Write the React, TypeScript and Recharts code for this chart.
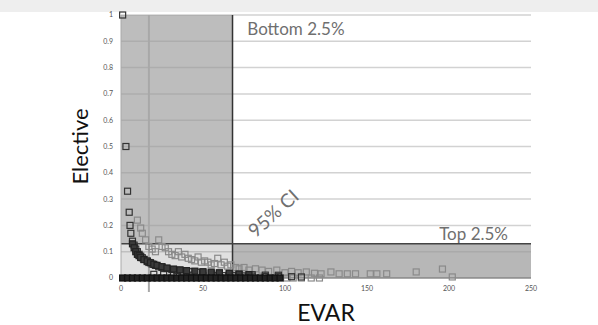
import React from "react";
import {
    ScatterChart,
    Scatter,
    XAxis,
    YAxis,
    CartesianGrid,
    ReferenceArea,
    ReferenceLine,
    ReferenceDot,
} from "recharts";

// axis ticks
const xTicks = [0, 50, 100, 150, 200, 250];
const yTicks = [0, 0.1, 0.2, 0.3, 0.4, 0.5, 0.6, 0.7, 0.8, 0.9, 1];

// cut-offs (EVAR volume, elective proportion) and the vertical marker
const evarCut = 68;
const electiveCut = 0.13;
const markerX = 17;

// hospitals at 0 elective proportion (dense black row)
const zeroRow: [number, number][] = [
    [1, 0], [4, 0], [7, 0], [10, 0], [13, 0], [16, 0], [19, 0], [22, 0], [25, 0], [28, 0],
    [31, 0], [34, 0], [37, 0], [40, 0], [43, 0], [46, 0], [49, 0], [52, 0], [55, 0], [58, 0],
    [61, 0], [64, 0], [67, 0], [70, 0], [73, 0], [76, 0], [79, 0], [82, 0], [85, 0], [88, 0],
    [91, 0], [94, 0], [97, 0],
];

// first curve, dark outlines
const darkCurve: [number, number][] = [
    [1, 1], [3, 0.5], [4, 0.33], [5, 0.25], [5.5, 0.2], [6, 0.17], [7, 0.14], [8, 0.125],
    [9, 0.11], [10, 0.1], [11, 0.09], [12, 0.083], [13, 0.077], [14, 0.071], [16, 0.0625],
    [17, 0.059], [19, 0.053], [21, 0.048], [23, 0.043], [25, 0.04], [28, 0.036], [31, 0.032],
    [34, 0.029], [38, 0.026], [42, 0.024], [46, 0.022], [50, 0.02], [55, 0.018], [60, 0.017],
    [66, 0.015], [72, 0.014], [80, 0.0125], [88, 0.011], [96, 0.0105],
    [20, 0.014], [26, 0.013], [32, 0.012], [38, 0.012], [44, 0.011], [50, 0.01], [56, 0.01],
    [62, 0.009], [68, 0.009], [74, 0.008], [80, 0.007], [88, 0.006], [96, 0.005], [104, 0.005],
    [110, 0.004],
];

// overlapping dark band (filled look)
const darkBand: [number, number][] = [
    [7, 0.13], [8, 0.115], [9, 0.1], [10, 0.09], [11, 0.085], [12, 0.078], [14, 0.07],
    [16, 0.065], [18, 0.058], [20, 0.052], [22, 0.048], [25, 0.043], [28, 0.038], [32, 0.034],
    [36, 0.031], [40, 0.028], [45, 0.026], [50, 0.024], [55, 0.022], [60, 0.02], [66, 0.018],
    [72, 0.015], [78, 0.013],
];

// remaining hospitals, light outlines
const lightPoints: [number, number][] = [
    [10, 0.22], [12, 0.19], [13, 0.17], [15, 0.145], [17, 0.12], [19, 0.11], [21, 0.1],
    [23, 0.145], [25, 0.12], [27, 0.115], [29, 0.1], [31, 0.09], [33, 0.085], [35, 0.1],
    [37, 0.08], [39, 0.09], [41, 0.075], [43, 0.07], [45, 0.065], [47, 0.08], [49, 0.06],
    [51, 0.065], [53, 0.06], [55, 0.05], [57, 0.055], [59, 0.075], [61, 0.05], [63, 0.06],
    [65, 0.045], [67, 0.05], [70, 0.04], [72, 0.035], [75, 0.04], [78, 0.03], [82, 0.035],
    [86, 0.03], [90, 0.025], [95, 0.03], [100, 0.02], [104, 0.025], [108, 0.02], [113, 0.023],
    [118, 0.018], [122, 0.016], [128, 0.023], [133, 0.016], [138, 0.016], [143, 0.016],
    [152, 0.016], [156, 0.016], [162, 0.016], [180, 0.023], [196, 0.034], [202, 0.004],
    [101, 0], [105, 0], [110, 0], [116, 0], [121, 0],
];

const toPts = (arr: [number, number][]) => arr.map(([x, y]) => ({ x, y }));

const FONT = "Lato, 'DejaVu Sans', sans-serif";

const square = (stroke: string, fill: string) => (p: any) => (
    <rect x={p.cx - 3} y={p.cy - 3} width={6} height={6} fill={fill} stroke={stroke} strokeWidth={1.2} />
);

// text placed at a data point, optionally rotated
const Annot = ({ viewBox, text, size, rot = 0 }: any) => {
    if (!viewBox) return null;
    const x = viewBox.x + viewBox.width / 2;
    const y = viewBox.y + viewBox.height / 2;
    return (
        <text
            x={x}
            y={y}
            fontSize={size}
            fontFamily={FONT}
            fill="#6f6f6f"
            textAnchor="start"
            transform={rot ? `rotate(${rot} ${x} ${y})` : undefined}
        >
            {text}
        </text>
    );
};

export default function App() {
    return (
        <div style={{ position: "absolute", left: 0, top: 0, width: 598, height: 325, background: "#fff" }}>
            <div style={{ position: "absolute", left: 0, top: 0, width: 598, height: 12, background: "#eeeeee" }} />
            <ScatterChart width={598} height={325} margin={{ top: 15, right: 67, left: 60, bottom: 0 }}>
                <CartesianGrid horizontal vertical={false} stroke="#d2d2d2" strokeWidth={1.5} />
                <ReferenceArea x1={0} x2={evarCut} y1={electiveCut} y2={1} fill="#999" fillOpacity={0.65} stroke="none" />
                <ReferenceArea x1={evarCut} x2={250} y1={0} y2={electiveCut} fill="#999" fillOpacity={0.7} stroke="none" />
                <ReferenceArea x1={0} x2={evarCut} y1={0} y2={electiveCut} fill="#999" fillOpacity={0.3} stroke="none" />
                <XAxis
                    type="number"
                    dataKey="x"
                    domain={[0, 250]}
                    ticks={xTicks}
                    height={47}
                    tickLine={false}
                    tickSize={0}
                    tickMargin={8}
                    axisLine={{ stroke: "#777" }}
                    tick={{ fontSize: 7, fill: "#555", fontFamily: FONT }}
                    label={{ value: "EVAR", position: "insideBottom", offset: 4, fontSize: 23, fill: "#111", fontFamily: FONT }}
                />
                <YAxis
                    type="number"
                    dataKey="y"
                    domain={[0, 1]}
                    ticks={yTicks}
                    width={61}
                    tickLine={false}
                    tickSize={0}
                    tickMargin={8}
                    axisLine={{ stroke: "#aaa" }}
                    tickFormatter={(v) => `${v}`}
                    tick={{ fontSize: 7, fill: "#555", fontFamily: FONT }}
                    label={{
                        value: "Elective",
                        angle: -90,
                        position: "insideLeft",
                        offset: 20,
                        fontSize: 22,
                        fill: "#111",
                        fontFamily: FONT,
                        style: { textAnchor: "middle" },
                    }}
                />
                <ReferenceLine
                    x={markerX}
                    stroke="#a8a8a8"
                    strokeWidth={2}
                    shape={(p: any) => (
                        <line
                            x1={p.x1}
                            x2={p.x2}
                            y1={Math.min(p.y1, p.y2)}
                            y2={Math.max(p.y1, p.y2) + 14}
                            stroke="#a8a8a8"
                            strokeWidth={2}
                        />
                    )}
                />
                <ReferenceLine x={evarCut} stroke="#333" strokeWidth={1.5} />
                <ReferenceLine y={electiveCut} stroke="#444" strokeWidth={1.5} />
                <Scatter data={toPts(lightPoints)} isAnimationActive={false} shape={square("#8a8a8a", "none")} />
                <Scatter data={toPts(darkCurve)} isAnimationActive={false} shape={square("#333", "none")} />
                <Scatter data={toPts(darkBand)} isAnimationActive={false} shape={square("#222", "#3a3a3a")} />
                <Scatter data={toPts(zeroRow)} isAnimationActive={false} shape={square("#111", "#222")} />
                <ReferenceDot x={77} y={0.925} r={0} stroke="none" label={<Annot text="Bottom 2.5%" size={17} />} />
                <ReferenceDot x={194} y={0.145} r={0} stroke="none" label={<Annot text="Top 2.5%" size={17} />} />
                <ReferenceDot x={82} y={0.15} r={0} stroke="none" label={<Annot text="95% CI" size={19} rot={-42} />} />
            </ScatterChart>
        </div>
    );
}
